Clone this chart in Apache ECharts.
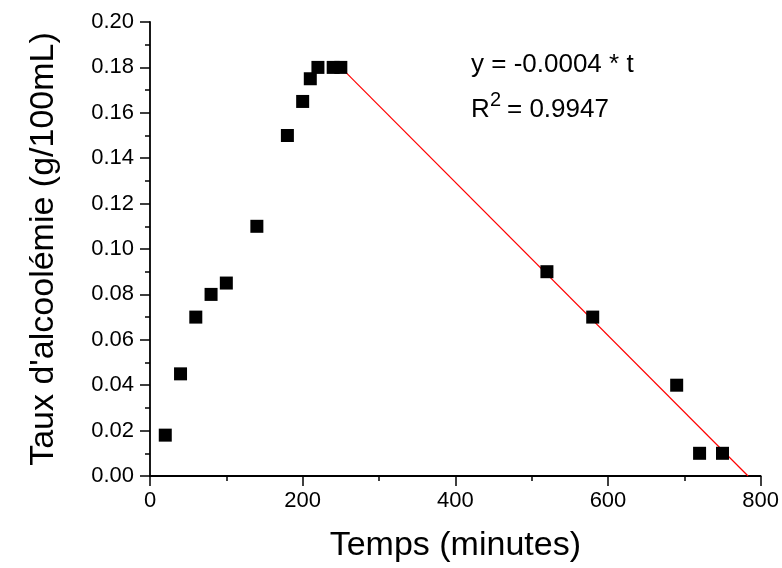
<!DOCTYPE html>
<html><head><meta charset="utf-8">
<script src="https://cdn.jsdelivr.net/npm/echarts@6/dist/echarts.min.js"></script>
<style>html,body{margin:0;padding:0;background:#fff}#c{width:782px;height:568px}</style>
</head><body><div id="c"></div>
<script>
var timeMin = [20, 40, 60, 80, 100, 140, 180, 200, 210, 220, 240, 250, 520, 580, 690, 720, 750];
var alcohol = [0.018, 0.045, 0.070, 0.080, 0.085, 0.110, 0.150, 0.165, 0.175, 0.180, 0.180, 0.180, 0.090, 0.070, 0.040, 0.010, 0.010];
var fitX = [250, 783.5];
var fitY = [0.180, 0.000];
var eqText = 'y = -0.0004 * t';
var r2Text = '= 0.9947';

var pts = timeMin.map(function(t, i){ return [t, alcohol[i]]; });
var fit = fitX.map(function(t, i){ return [t, fitY[i]]; });
var font = '"Liberation Sans", Arial, sans-serif';
var chart = echarts.init(document.getElementById('c'));
chart.setOption({
  animation: false,
  backgroundColor: '#fff',
  grid: {left: 150, right: 19.5, top: 22, bottom: 91},
  xAxis: {
    type: 'value', min: 0, max: 800, interval: 200,
    name: 'Temps (minutes)', nameLocation: 'middle', nameGap: 53,
    nameTextStyle: {fontFamily: font, fontSize: 34, color: '#000'},
    axisLine: {show: true, onZero: false, lineStyle: {color: '#000', width: 1.8}},
    axisTick: {show: true, inside: false, length: 10, lineStyle: {color: '#000', width: 1.5}},
    minorTick: {show: true, splitNumber: 2, length: 5, lineStyle: {color: '#000', width: 1.5}},
    axisLabel: {fontFamily: font, fontSize: 22, color: '#000', margin: 14},
    splitLine: {show: false}
  },
  yAxis: {
    type: 'value', min: 0, max: 0.2, interval: 0.02,
    name: "Taux d'alcoolémie (g/100mL)", nameLocation: 'middle', nameGap: 89,
    nameTextStyle: {fontFamily: font, fontSize: 34, color: '#000'},
    axisLine: {show: true, onZero: false, lineStyle: {color: '#000', width: 1.8}},
    axisTick: {show: true, inside: false, length: 10, lineStyle: {color: '#000', width: 1.5}},
    minorTick: {show: true, splitNumber: 2, length: 5, lineStyle: {color: '#000', width: 1.5}},
    axisLabel: {fontFamily: font, fontSize: 22, color: '#000', margin: 16,
      formatter: function(v){ return v.toFixed(2); }},
    splitLine: {show: false}
  },
  series: [
    {type: 'line', data: fit, symbol: 'none', lineStyle: {color: '#ff0000', width: 1.2}, z: 3, silent: true},
    {type: 'scatter', data: pts, symbol: 'rect', symbolSize: 13, itemStyle: {color: '#000', opacity: 1}, z: 4}
  ],
  graphic: [
    {type: 'text', x: 471, y: 64.5, style: {text: eqText, font: '26px ' + font, fill: '#000', verticalAlign: 'middle'}},
    {type: 'text', x: 471, y: 109.5, style: {text: 'R', font: '26px ' + font, fill: '#000', verticalAlign: 'middle'}},
    {type: 'text', x: 490, y: 100, style: {text: '2', font: '20px ' + font, fill: '#000', verticalAlign: 'middle'}},
    {type: 'text', x: 507, y: 109.5, style: {text: r2Text, font: '26px ' + font, fill: '#000', verticalAlign: 'middle'}}
  ]
});
</script></body></html>
